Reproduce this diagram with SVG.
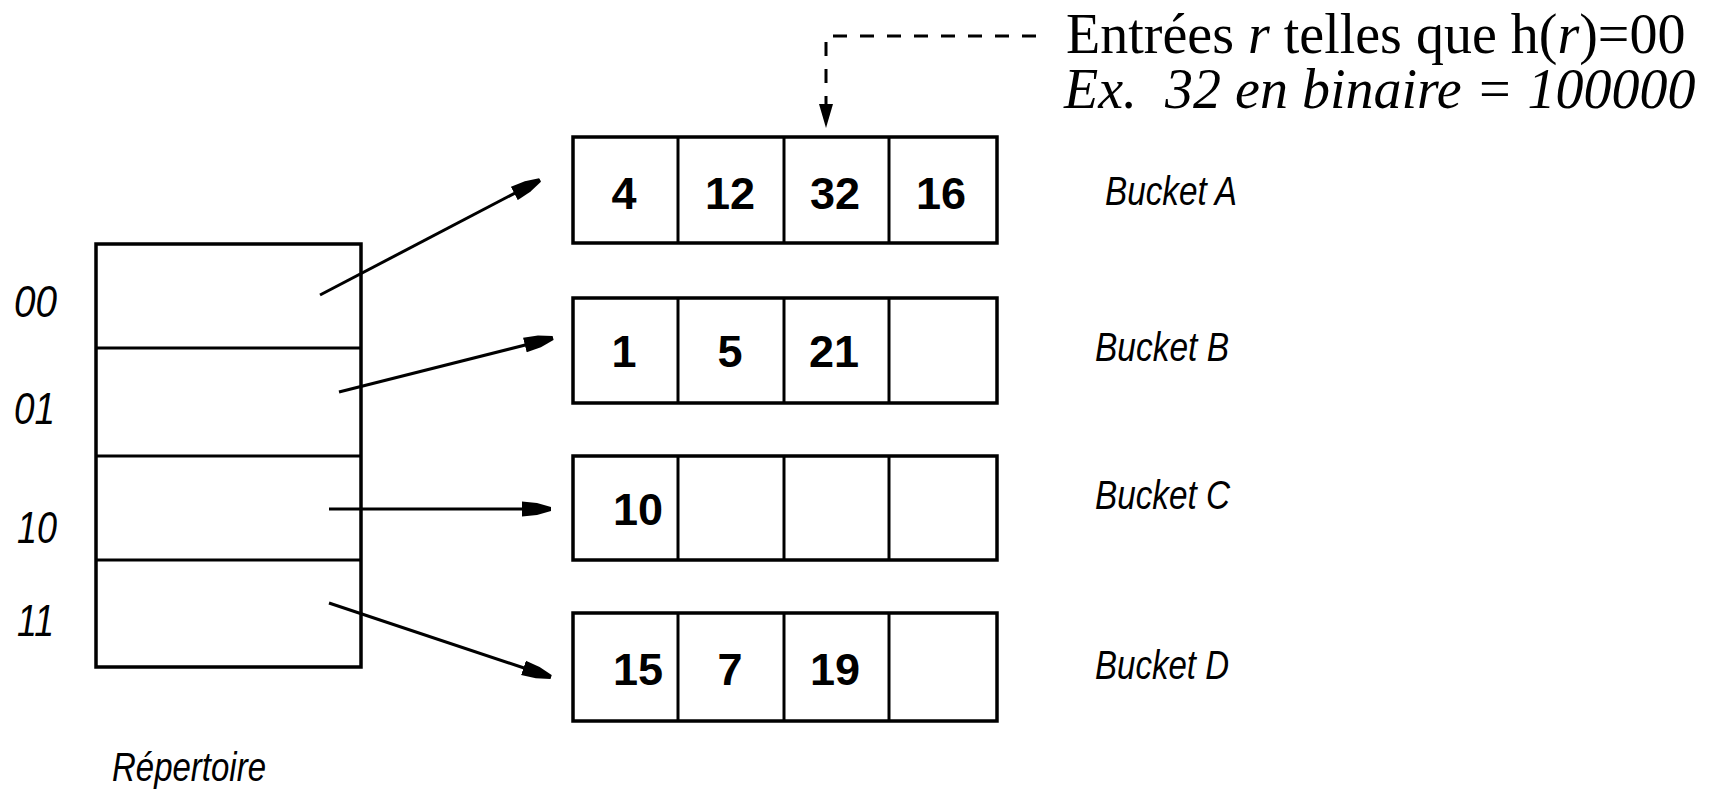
<svg xmlns="http://www.w3.org/2000/svg" width="1711" height="789" viewBox="0 0 1711 789">
<defs>
<style>
.box{fill:none;stroke:#000;stroke-width:3.5}
.div{fill:none;stroke:#000;stroke-width:3}
.num{font-family:"Liberation Sans",Arial,sans-serif;font-weight:bold;font-size:45px;text-anchor:middle;fill:#000}
.lbl{font-family:"Liberation Sans",Arial,sans-serif;font-style:italic;font-size:40px;fill:#000}
.key{font-family:"Liberation Sans",Arial,sans-serif;font-style:italic;font-size:44px;fill:#000}
.note{font-family:"Liberation Serif","Times New Roman",serif;font-size:56px;fill:#000}
.conn{stroke:#000;stroke-width:3;fill:none}
.dash{stroke:#000;stroke-width:3;fill:none;stroke-dasharray:14 13}
</style>
<marker id="ah" viewBox="0 -8 30 16" refX="29" refY="0" markerWidth="30" markerHeight="16" markerUnits="userSpaceOnUse" orient="auto">
<path d="M0,-7.5 L15,-6 L29,-2 L29,2 L15,6 L0,7.5 Z" fill="#000"/>
</marker>
</defs>
<rect width="1711" height="789" fill="#fff"/>

<g id="directory">
<rect class="box" x="96" y="244" width="265" height="423"/>
<line class="div" x1="96" y1="348" x2="361" y2="348"/>
<line class="div" x1="96" y1="456" x2="361" y2="456"/>
<line class="div" x1="96" y1="560" x2="361" y2="560"/>
<text class="key" x="14" y="317" textLength="43" lengthAdjust="spacingAndGlyphs">00</text>
<text class="key" x="14" y="424" textLength="41" lengthAdjust="spacingAndGlyphs">01</text>
<text class="key" x="17" y="543" textLength="40" lengthAdjust="spacingAndGlyphs">10</text>
<text class="key" x="17" y="636" textLength="37" lengthAdjust="spacingAndGlyphs">11</text>
<text class="lbl" x="112" y="781" font-size="36" textLength="154" lengthAdjust="spacingAndGlyphs">Répertoire</text>
</g>

<g id="bucket-A">
<rect class="box" x="573" y="137" width="424" height="106"/>
<line class="div" x1="678" y1="137" x2="678" y2="243"/>
<line class="div" x1="784" y1="137" x2="784" y2="243"/>
<line class="div" x1="889" y1="137" x2="889" y2="243"/>
<text class="num" x="624" y="209">4</text>
<text class="num" x="730" y="209">12</text>
<text class="num" x="835" y="209">32</text>
<text class="num" x="941" y="209">16</text>
<text class="lbl" x="1105" y="205" textLength="132" lengthAdjust="spacingAndGlyphs">Bucket A</text>
</g>

<g id="bucket-B">
<rect class="box" x="573" y="298" width="424" height="105"/>
<line class="div" x1="678" y1="298" x2="678" y2="403"/>
<line class="div" x1="784" y1="298" x2="784" y2="403"/>
<line class="div" x1="889" y1="298" x2="889" y2="403"/>
<text class="num" x="624" y="367">1</text>
<text class="num" x="730" y="367">5</text>
<text class="num" x="834" y="367">21</text>
<text class="lbl" x="1095" y="361" textLength="134" lengthAdjust="spacingAndGlyphs">Bucket B</text>
</g>

<g id="bucket-C">
<rect class="box" x="573" y="456" width="424" height="104"/>
<line class="div" x1="678" y1="456" x2="678" y2="560"/>
<line class="div" x1="784" y1="456" x2="784" y2="560"/>
<line class="div" x1="889" y1="456" x2="889" y2="560"/>
<text class="num" x="638" y="525">10</text>
<text class="lbl" x="1095" y="509" textLength="135" lengthAdjust="spacingAndGlyphs">Bucket C</text>
</g>

<g id="bucket-D">
<rect class="box" x="573" y="613" width="424" height="108"/>
<line class="div" x1="678" y1="613" x2="678" y2="721"/>
<line class="div" x1="784" y1="613" x2="784" y2="721"/>
<line class="div" x1="889" y1="613" x2="889" y2="721"/>
<text class="num" x="638" y="685">15</text>
<text class="num" x="730" y="685">7</text>
<text class="num" x="835" y="685">19</text>
<text class="lbl" x="1095" y="679" textLength="134" lengthAdjust="spacingAndGlyphs">Bucket D</text>
</g>

<g id="annotation">
<text class="note" x="1066" y="53">Entrées <tspan font-style="italic">r</tspan> telles que h(<tspan font-style="italic">r</tspan>)=00</text>
<text class="note" x="1064" y="108" font-style="italic" xml:space="preserve" style="white-space:pre">Ex.  32 en binaire = 100000</text>
</g>

<g id="connectors">
<line class="conn" x1="320" y1="295" x2="540" y2="180" marker-end="url(#ah)"/>
<line class="conn" x1="339" y1="392" x2="553" y2="338" marker-end="url(#ah)"/>
<line class="conn" x1="329" y1="509" x2="551" y2="509" marker-end="url(#ah)"/>
<line class="conn" x1="329" y1="603" x2="551" y2="677" marker-end="url(#ah)"/>
<path class="dash" d="M1036,36 L826,36 L826,106"/>
<polygon points="819,104 833,104 826,128" fill="#000"/>
</g>
</svg>
